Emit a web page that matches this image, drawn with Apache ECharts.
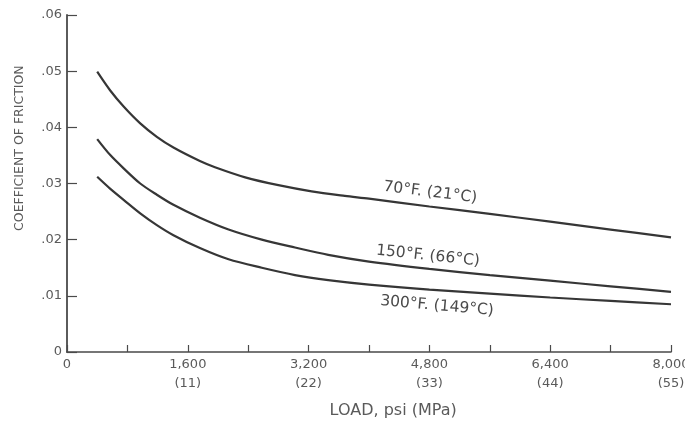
<!DOCTYPE html>
<html>
<head>
<meta charset="utf-8">
<script src="https://cdn.jsdelivr.net/npm/echarts@6/dist/echarts.min.js"></script>
<style>html,body{margin:0;padding:0;background:#fff}#c{width:685px;height:421px}</style>
</head>
<body>
<div id="c"></div>
<script>
// Load (psi) sample positions
const load70 = [400, 570, 750, 970, 1190, 1410, 1760, 1960, 2360, 2800, 3240, 3680, 4000, 4800, 5600, 6400, 7200, 8000];
const cof70  = [0.0499, 0.0466, 0.0437, 0.0407, 0.0383, 0.0364, 0.0340, 0.0329, 0.0311, 0.0297, 0.0286, 0.0278, 0.0273, 0.0259, 0.0246, 0.0232, 0.0218, 0.0204];
const loadHot = [400, 570, 750, 970, 1190, 1410, 1760, 2140, 2580, 3020, 3460, 4000, 4800, 5600, 6400, 7200, 8000];
const cof150 = [0.0379, 0.0351, 0.0327, 0.0300, 0.0280, 0.0262, 0.0239, 0.0218, 0.0200, 0.0186, 0.0173, 0.0161, 0.0148, 0.0137, 0.0127, 0.0117, 0.0107];
const cof300 = [0.0312, 0.0291, 0.0271, 0.0247, 0.0226, 0.0208, 0.0185, 0.0165, 0.0150, 0.0137, 0.0128, 0.0120, 0.0111, 0.0104, 0.0097, 0.0091, 0.0085];

const seriesNames = ['70°F. (21°C)', '150°F. (66°C)', '300°F. (149°C)'];
// label anchor in data space [psi, coefficient] and tilt (degrees)
const labelAt = [[4810, 0.0284], [4780, 0.0171], [4900, 0.0082]];
const labelTilt = [7, 6, 5];

const xTickPsi = ['0', '1,600', '3,200', '4,800', '6,400', '8,000'];
const xTickMPa = ['', '(11)', '(22)', '(33)', '(44)', '(55)'];
const yTickLabels = ['0', '.01', '.02', '.03', '.04', '.05', '.06'];

const xName = 'LOAD, psi (MPa)';
const yName = 'COEFFICIENT OF FRICTION';

const pair = (xs, ys) => xs.map((x, i) => [x, ys[i]]);
const FONT = 'DejaVu Sans';
const TXT = '#5a5a5a';
const AX = '#4a4a4a';

const chart = echarts.init(document.getElementById('c'), null, {renderer: 'canvas'});
const lineStyle = {color: '#363636', width: 2.2};
const common = {type: 'line', smooth: 0.3, symbol: 'none', lineStyle: lineStyle};
chart.setOption({
  animation: false,
  backgroundColor: '#fff',
  grid: {left: 67, right: 14, top: 15, bottom: 69, containLabel: false, outerBoundsMode: 'none'},
  xAxis: {
    type: 'value', min: 0, max: 8000, interval: 800,
    axisLine: {show: true, onZero: false, lineStyle: {color: AX, width: 1.6}},
    axisTick: {show: true, inside: true, length: 7, lineStyle: {color: AX, width: 1.2}},
    splitLine: {show: false},
    axisLabel: {
      margin: 3, fontFamily: FONT, fontSize: 13, color: TXT, lineHeight: 19,
      showMinLabel: true, showMaxLabel: true,
      formatter: function (v) {
        if (Math.round(v) % 1600 !== 0) return '';
        const i = Math.round(v / 1600);
        return xTickMPa[i] ? xTickPsi[i] + '\n' + xTickMPa[i] : xTickPsi[i];
      }
    }
  },
  yAxis: {
    type: 'value', min: 0, max: 0.06, interval: 0.01,
    axisLine: {show: true, onZero: false, lineStyle: {color: AX, width: 1.8}},
    axisTick: {show: true, inside: true, length: 10, lineStyle: {color: AX, width: 1.2}},
    splitLine: {show: false},
    axisLabel: {
      margin: 5, fontFamily: FONT, fontSize: 13, color: TXT,
      formatter: function (v) { return yTickLabels[Math.round(v / 0.01)]; }
    }
  },
  series: [
    Object.assign({name: seriesNames[0], data: pair(load70, cof70)}, common),
    Object.assign({name: seriesNames[1], data: pair(loadHot, cof150)}, common),
    Object.assign({name: seriesNames[2], data: pair(loadHot, cof300)}, common)
  ]
});

const gfx = labelAt.map((p, i) => {
  const px = chart.convertToPixel({gridIndex: 0}, p);
  return {
    type: 'text', x: px[0], y: px[1], rotation: -labelTilt[i] * Math.PI / 180,
    style: {text: seriesNames[i], fill: '#4a4a4a', font: '15.5px "' + FONT + '"', align: 'center', verticalAlign: 'middle'}
  };
});
const xMid = chart.convertToPixel({gridIndex: 0}, [4320, 0]);
gfx.push({type: 'text', x: xMid[0], y: 411,
  style: {text: xName, fill: TXT, font: '16px "' + FONT + '"', align: 'center', verticalAlign: 'middle'}});
const yMid = chart.convertToPixel({gridIndex: 0}, [0, 0.0363]);
gfx.push({type: 'text', x: 20, y: yMid[1], rotation: Math.PI / 2,
  style: {text: yName, fill: TXT, font: '12.5px "' + FONT + '"', align: 'center', verticalAlign: 'middle'}});
chart.setOption({graphic: gfx});
</script>
</body>
</html>
